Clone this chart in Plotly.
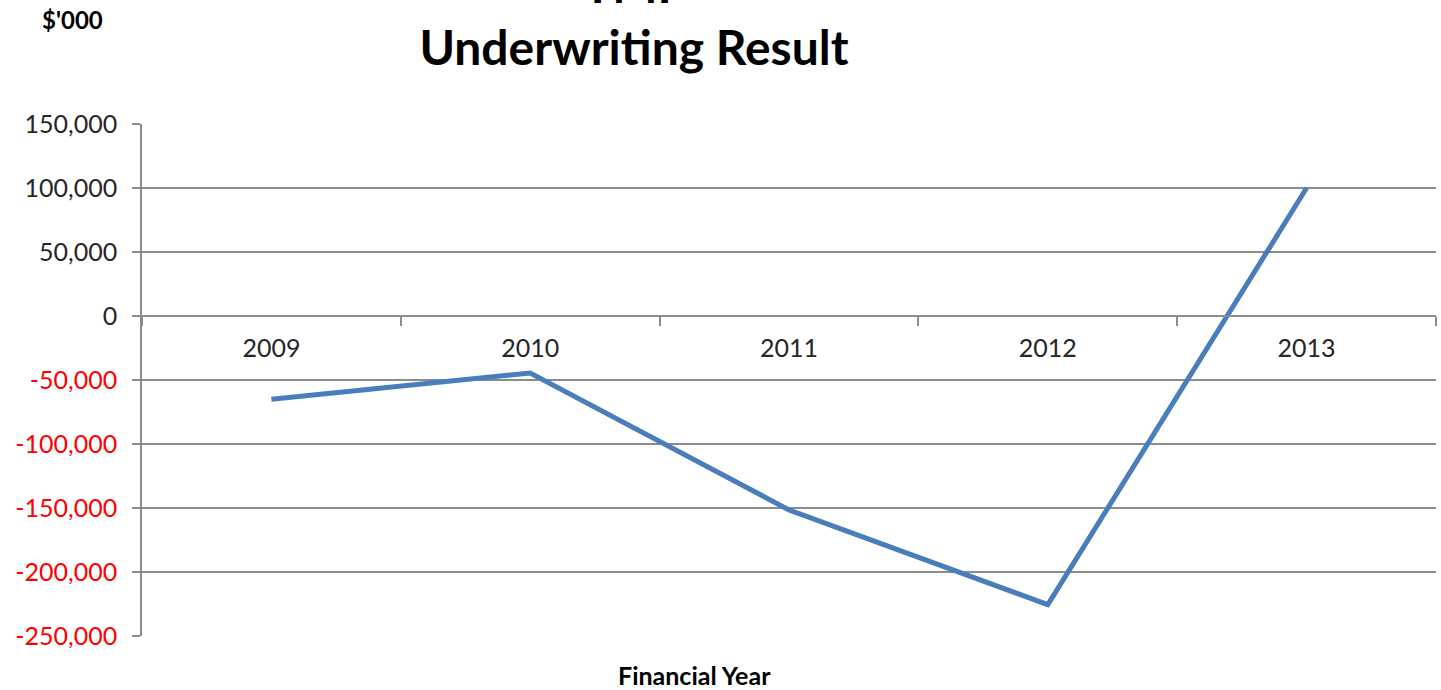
import plotly.graph_objects as go

years = ["2009", "2010", "2011", "2012", "2013"]
underwriting_result = [-65000, -44500, -151500, -225500, 100000]

y_tick_vals = [150000, 100000, 50000, 0, -50000, -100000, -150000, -200000, -250000]
y_tick_text = ["150,000", "100,000", "50,000", "0", "-50,000", "-100,000", "-150,000", "-200,000", "-250,000"]

FONT = "Century Gothic, Lato, sans-serif"
GRID = "#8c8c8c"

ticktext = [
    (f'<span style="color:#ff0000">{t}</span>' if v < 0 else f'<span style="color:#262626">{t}</span>')
    for v, t in zip(y_tick_vals, y_tick_text)
]

plot_l, plot_r, plot_t, plot_b = 142, 1436, 124, 636
W, H = 1441, 690

fig = go.Figure()
fig.add_trace(go.Scatter(
    x=years, y=underwriting_result, mode="lines",
    line=dict(color="#4a7ebb", width=5),
    showlegend=False, hoverinfo="x+y",
))

fig.update_layout(
    width=W, height=H,
    margin=dict(l=plot_l, r=W - plot_r, t=plot_t, b=H - plot_b),
    paper_bgcolor="white", plot_bgcolor="white",
    font=dict(family=FONT, size=25, color="#262626"),
    title=dict(
        text="TMF<br>Underwriting Result",
        font=dict(family=FONT, size=48, color="black", weight="bold"),
        x=634 / W, xanchor="center", xref="container",
        y=1 - 3 / H, yanchor="bottom", yref="container",
    ),
    xaxis=dict(
        type="category",
        anchor="free", position=0.625,
        showline=True, linecolor=GRID, linewidth=1.5,
        ticks="outside", ticklen=9, tickcolor=GRID, tickwidth=1.5,
        tickson="boundaries",
        showgrid=False, zeroline=False,
        ticklabelstandoff=10,
        tickfont=dict(family=FONT, size=25, color="#262626"),
        range=[-0.5, 4.5],
    ),
    yaxis=dict(
        range=[-250000, 150000],
        tickvals=y_tick_vals, ticktext=ticktext,
        showline=True, linecolor=GRID, linewidth=1.5,
        ticks="outside", ticklen=8, tickcolor=GRID, tickwidth=1.5,
        showgrid=True, gridcolor=GRID, gridwidth=1.5,
        zeroline=False,
        ticklabelstandoff=10,
        tickfont=dict(family=FONT, size=25),
    ),
)

def px_to_paper_x(px):
    return (px - plot_l) / (plot_r - plot_l)
def px_to_paper_y(py):
    return (plot_b - py) / (plot_b - plot_t)

fig.add_annotation(text="<b>$'000</b>", x=px_to_paper_x(72), y=px_to_paper_y(19),
                   xref="paper", yref="paper", showarrow=False, xanchor="center", yanchor="middle",
                   font=dict(family=FONT, size=24, color="black"))
fig.add_annotation(text="<b>Financial Year</b>", x=px_to_paper_x(694), y=px_to_paper_y(675),
                   xref="paper", yref="paper", showarrow=False, xanchor="center", yanchor="middle",
                   font=dict(family=FONT, size=25, color="black"))

fig.write_html("out.html", config={"displayModeBar": False},
               post_script="document.body.style.margin='0';document.body.style.overflow='hidden';")
